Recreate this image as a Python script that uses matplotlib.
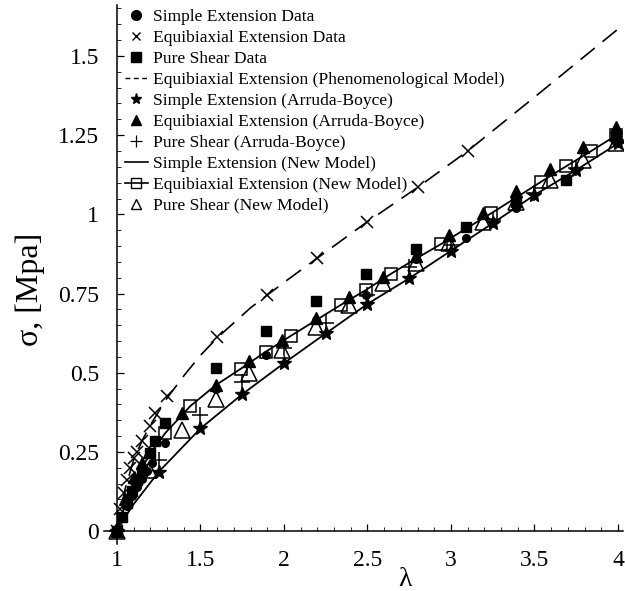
import matplotlib.pyplot as plt
from matplotlib.lines import Line2D
from matplotlib.ticker import MultipleLocator

plt.rcParams['font.family'] = ['Liberation Serif', 'DejaVu Serif']

# Simple Extension Data (filled circles)
se_lam = [1.0, 1.03, 1.06, 1.09, 1.12, 1.15, 1.18, 1.21, 1.29, 1.59, 1.89, 2.19, 2.49, 2.79, 3.09, 3.39, 3.69, 3.99]
se_sig = [0, 0.04, 0.08, 0.11, 0.14, 0.165, 0.19, 0.215, 0.277, 0.45, 0.557, 0.666, 0.745, 0.86, 0.924, 1.02, 1.105, 1.23]

# Equibiaxial Extension Data (x)
eb_lam = [1.0, 1.02, 1.04, 1.06, 1.08, 1.1, 1.12, 1.15, 1.2, 1.23, 1.3, 1.6, 1.9, 2.2, 2.5, 2.8, 3.1]
eb_sig = [0, 0.07, 0.12, 0.16, 0.2, 0.23, 0.25, 0.285, 0.332, 0.374, 0.428, 0.613, 0.745, 0.862, 0.977, 1.087, 1.2]

# Pure Shear Data (filled squares)
ps_lam = [1.0, 1.03, 1.06, 1.09, 1.12, 1.15, 1.2, 1.23, 1.29, 1.59, 1.89, 2.19, 2.49, 2.79, 3.09, 3.39, 3.69, 3.99]
ps_sig = [0, 0.045, 0.09, 0.125, 0.16, 0.19, 0.246, 0.285, 0.34, 0.515, 0.632, 0.727, 0.813, 0.89, 0.959, 1.04, 1.11, 1.24]

# Equibiaxial Extension (Phenomenological Model) - dashed
ph_lam = [1.0, 1.02, 1.05, 1.1, 1.15, 1.2, 1.3, 1.4, 1.5, 1.6, 1.8, 2.0, 2.2, 2.5, 2.8, 3.1, 3.5, 4.0]
ph_sig = [0, 0.06, 0.135, 0.225, 0.285, 0.335, 0.42, 0.49, 0.555, 0.61, 0.705, 0.785, 0.862, 0.977, 1.085, 1.2, 1.37, 1.585]

# Arruda-Boyce
ab_se_lam = [1.0, 1.25, 1.5, 1.75, 2.0, 2.25, 2.5, 2.75, 3.0, 3.25, 3.5, 3.75, 4.0]
ab_se_sig = [0, 0.187, 0.324, 0.432, 0.53, 0.624, 0.717, 0.798, 0.885, 0.972, 1.061, 1.14, 1.224]

ab_eb_lam = [1.0, 1.05, 1.1, 1.15, 1.19, 1.39, 1.59, 1.79, 1.99, 2.19, 2.39, 2.59, 2.79, 2.99, 3.19, 3.39, 3.59, 3.79, 3.99]
ab_eb_sig = [0, 0.1, 0.17, 0.215, 0.25, 0.372, 0.46, 0.538, 0.604, 0.672, 0.74, 0.803, 0.87, 0.935, 1.003, 1.075, 1.142, 1.213, 1.277]

ab_ps_lam = [1.0, 1.25, 1.5, 1.75, 2.0, 2.25, 2.5, 2.75, 3.0, 3.25, 3.5, 3.75, 4.0]
ab_ps_sig = [0, 0.224, 0.365, 0.47, 0.577, 0.656, 0.745, 0.835, 0.903, 0.982, 1.068, 1.145, 1.235]

# New Model
nm_se_lam = [1.0, 1.05, 1.1, 1.25, 1.5, 1.75, 2.0, 2.25, 2.5, 2.75, 3.0, 3.25, 3.5, 3.75, 4.0]
nm_se_sig = [0, 0.045, 0.085, 0.187, 0.324, 0.432, 0.53, 0.624, 0.717, 0.798, 0.885, 0.972, 1.061, 1.14, 1.224]

nm_eb_lam = [1.0, 1.05, 1.1, 1.15, 1.2, 1.29, 1.44, 1.59, 1.74, 1.89, 2.04, 2.19, 2.34, 2.49, 2.64, 2.79, 2.94, 3.09, 3.24, 3.39, 3.54, 3.69, 3.84, 4.0]
nm_eb_sig = [0, 0.085, 0.15, 0.2, 0.245, 0.31, 0.395, 0.46, 0.512, 0.566, 0.616, 0.665, 0.714, 0.761, 0.812, 0.86, 0.906, 0.955, 1.003, 1.053, 1.103, 1.152, 1.2, 1.253]

nm_sq_lam = [1.29, 1.44, 1.74, 1.89, 2.04, 2.34, 2.49, 2.64, 2.94, 3.24, 3.54, 3.69, 3.84, 3.99]
nm_sq_sig = [0.31, 0.395, 0.512, 0.566, 0.616, 0.714, 0.761, 0.812, 0.906, 1.003, 1.103, 1.152, 1.2, 1.25]

nm_ps_lam = [1.0, 1.19, 1.39, 1.59, 1.79, 1.99, 2.19, 2.39, 2.59, 2.79, 2.99, 3.19, 3.39, 3.59, 3.79, 3.99]
nm_ps_sig = [0, 0.193, 0.319, 0.416, 0.5, 0.573, 0.645, 0.714, 0.782, 0.845, 0.908, 0.977, 1.04, 1.108, 1.171, 1.224]

labels = ["Simple Extension Data",
          "Equibiaxial Extension Data",
          "Pure Shear Data",
          "Equibiaxial Extension (Phenomenological Model)",
          "Simple Extension (Arruda-Boyce)",
          "Equibiaxial Extension (Arruda-Boyce)",
          "Pure Shear (Arruda-Boyce)",
          "Simple Extension (New Model)",
          "Equibiaxial Extension (New Model)",
          "Pure Shear (New Model)"]

fig = plt.figure(figsize=(6.25, 5.91), dpi=100)
ax = fig.add_axes([0.1658, 0.08, 0.831, 0.911])

k = 'black'
ax.plot(ph_lam, ph_sig, color=k, lw=1.2, dashes=(11, 6))
ax.plot(nm_se_lam, nm_se_sig, color=k, lw=1.3)
ax.plot(nm_eb_lam, nm_eb_sig, color=k, lw=1.3)

ax.plot(se_lam, se_sig, 'o', color=k, ms=5.5, ls='none')
ax.plot(eb_lam, eb_sig, 'x', color=k, ms=8, mew=1.1, ls='none')
ax.plot(ps_lam, ps_sig, 's', color=k, ms=6.5, ls='none')
ax.plot(ab_se_lam, ab_se_sig, '*', color=k, ms=10, ls='none')
ax.plot(ab_eb_lam, ab_eb_sig, '^', color=k, ms=8, ls='none')
ax.plot(ab_ps_lam, ab_ps_sig, '+', color=k, ms=12, mew=1.1, ls='none')
ax.plot(nm_sq_lam, nm_sq_sig, 's', mec=k, mfc='none', ms=8, mew=1.1, ls='none')
ax.plot(nm_ps_lam, nm_ps_sig, '^', mec=k, mfc='none', ms=11, mew=1.1, ls='none')

ax.set_xlim(0.92, 4.03)
ax.set_ylim(-0.04, 1.66)
ax.spines['left'].set_position(('data', 1))
ax.spines['bottom'].set_position(('data', 0))
ax.spines['top'].set_visible(False)
ax.spines['right'].set_visible(False)
ax.spines['left'].set_linewidth(1.1)
ax.spines['bottom'].set_linewidth(1.1)

ax.set_xticks([1, 1.5, 2, 2.5, 3, 3.5, 4])
ax.set_xticklabels(['1', '1.5', '2', '2.5', '3', '3.5', '4'])
ax.set_yticks([0, 0.25, 0.5, 0.75, 1, 1.25, 1.5])
ax.set_yticklabels(['0', '0.25', '0.5', '0.75', '1', '1.25', '1.5'])
ax.xaxis.set_minor_locator(MultipleLocator(0.1))
ax.yaxis.set_minor_locator(MultipleLocator(0.05))
ax.tick_params(which='major', direction='in', length=5, width=0.9, labelsize=17)
ax.tick_params(axis='x', which='major', pad=14)
ax.tick_params(axis='y', which='major', pad=13)
ax.tick_params(which='minor', direction='in', length=3, width=0.6)

fig.text(0.048, 0.51, "σ, [Mpa]", rotation=90, fontsize=23, ha='center', va='center')
fig.text(0.648, 0.02, "λ", fontsize=20, ha='center', va='center')

handles = [
    Line2D([], [], marker='o', color=k, ls='none', ms=7),
    Line2D([], [], marker='x', color=k, ls='none', ms=6, mew=1),
    Line2D([], [], marker='s', color=k, ls='none', ms=7),
    Line2D([], [], color=k, lw=1, dashes=(3.5, 2.5)),
    Line2D([], [], marker='*', color=k, ls='none', ms=8),
    Line2D([], [], marker='^', color=k, ls='none', ms=7),
    Line2D([], [], marker='+', color=k, ls='none', ms=8, mew=0.9),
    Line2D([], [], color=k, lw=1.2),
    Line2D([], [], color=k, lw=1.2, marker='s', mfc='none', ms=7),
    Line2D([], [], marker='^', mec=k, mfc='none', ls='none', ms=7),
]
fig.legend(handles, labels, loc='upper left', bbox_to_anchor=(0.2, 0.985),
           frameon=False, fontsize=12.6, handlelength=1.3, handletextpad=0.3,
           labelspacing=0.27, borderpad=0, borderaxespad=0)

fig.savefig('out.png', dpi=100)
